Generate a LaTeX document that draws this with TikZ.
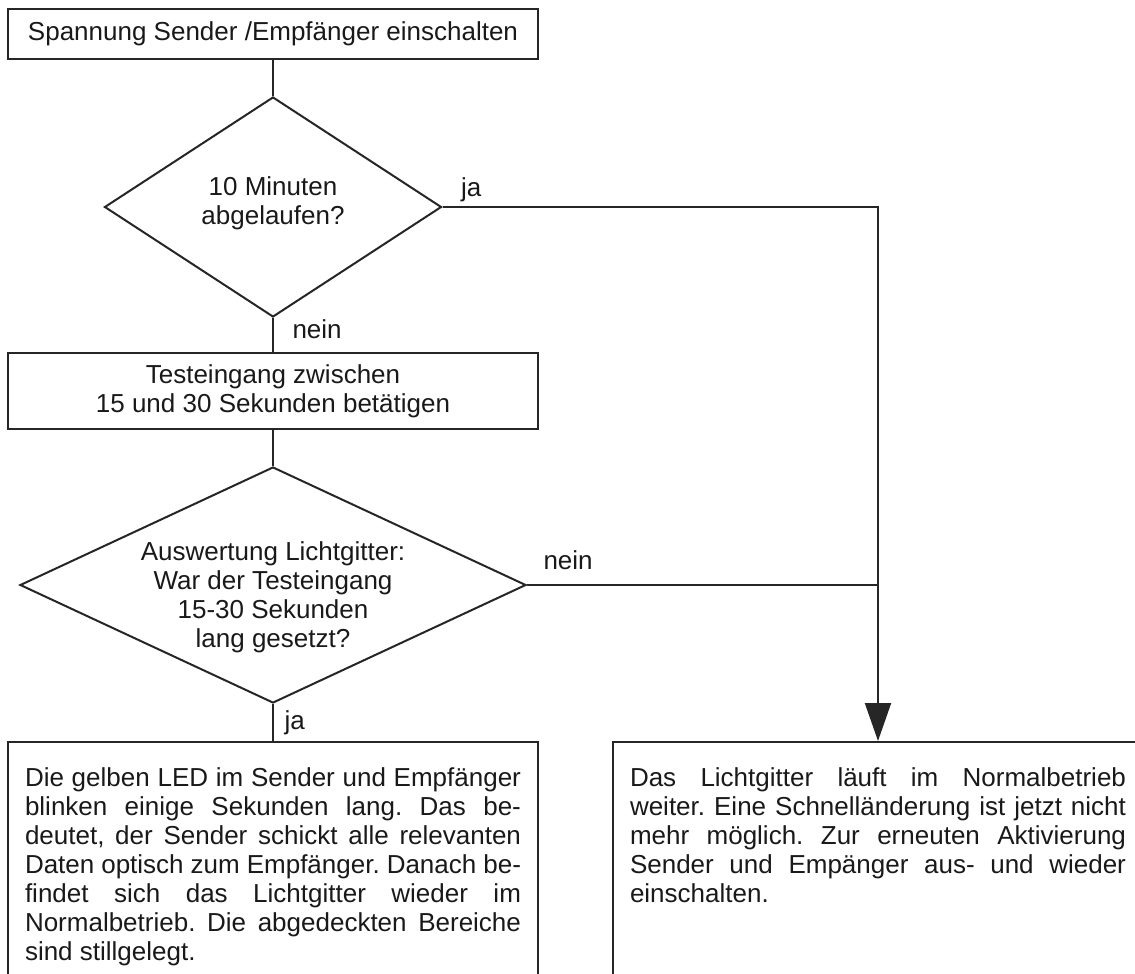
\documentclass[tikz,border=0pt]{standalone}
\usepackage{fontspec}
\setmainfont{Liberation Sans}
\usetikzlibrary{shapes.geometric, arrows.meta}

\begin{document}
\frenchspacing
\begin{tikzpicture}[x=1pt, y=-1pt]
        \tikzstyle{every node}=[font=\fontsize{26}{29}\selectfont, text=black!90];
        \tikzstyle{box}=[draw=black!85, line width=2pt, shape=rectangle, minimum width=530pt, align=center, inner sep=0pt];
        \tikzstyle{query}=[draw=black!85, line width=2pt, shape=diamond, align=center, inner sep=0pt];
        \tikzstyle{note}=[draw=black!85, line width=2pt, shape=rectangle, anchor=north, text width=496pt, align=justify, inner xsep=17pt, inner ysep=26pt, text depth=250pt];
        \tikzstyle{wire}=[draw=black!85, line width=2pt];
        \useasboundingbox (0,0) rectangle (1135,974);
        \node[box, minimum height=50pt] (power) at (273,34) {Spannung Sender /Empfänger einschalten};
        \node[query, minimum width=337pt, minimum height=220pt,
            label={[align=center, yshift=4pt]center:10 Minuten\\abgelaufen?}] (timeout) at (273,207) {};
        \node[box, minimum height=76pt] (testin) at (273,391) {Testeingang zwischen\\15 und 30 Sekunden betätigen};
        \node[query, minimum width=506pt, minimum height=236pt,
            label={[align=center, yshift=-12pt]center:Auswertung Lichtgitter:\\War der Testeingang\\15-30 Sekunden\\lang gesetzt?}] (check) at (273,585) {};
        \node[note] (blink) at (273,741) {Die gelben LED im Sender und Empfänger\linebreak blinken einige Sekunden lang. Das be-\linebreak deutet, der Sender schickt alle relevanten\linebreak Daten optisch zum Empfänger. Danach be-\linebreak findet sich das Lichtgitter wieder im\linebreak Normalbetrieb. Die abgedeckten Bereiche\linebreak sind stillgelegt.};
        \node[note] (normal) at (878,741) {Das Lichtgitter läuft im Normalbetrieb\linebreak weiter. Eine Schnelländerung ist jetzt nicht\linebreak mehr möglich. Zur erneuten Aktivierung\linebreak Sender und Empänger aus- und wieder\linebreak einschalten.};
        \node[anchor=base west] (ja1) at ([xshift=15pt, yshift=11pt]timeout.east) {ja};
        \node[anchor=base west] (nein1) at ([xshift=16pt, yshift=-20pt]timeout.south) {nein};
        \node[anchor=base west] (nein2) at ([xshift=13pt, yshift=16pt]check.east) {nein};
        \node[anchor=base west] (ja2) at ([xshift=8pt, yshift=-25pt]check.south) {ja};
        \draw[wire] (power.south) -- (timeout.north);
        \draw[wire] (timeout.south) -- (testin.north);
        \draw[wire] (testin.south) -- (check.north);
        \draw[wire] (check.south) -- (blink.north);
        \draw[wire, -{Triangle[length=38pt, width=26pt]}] (timeout.east) -| (normal.north);
        \draw[wire] (check.east) -- (check.east -| normal.north);
    \end{tikzpicture}
\end{document}
